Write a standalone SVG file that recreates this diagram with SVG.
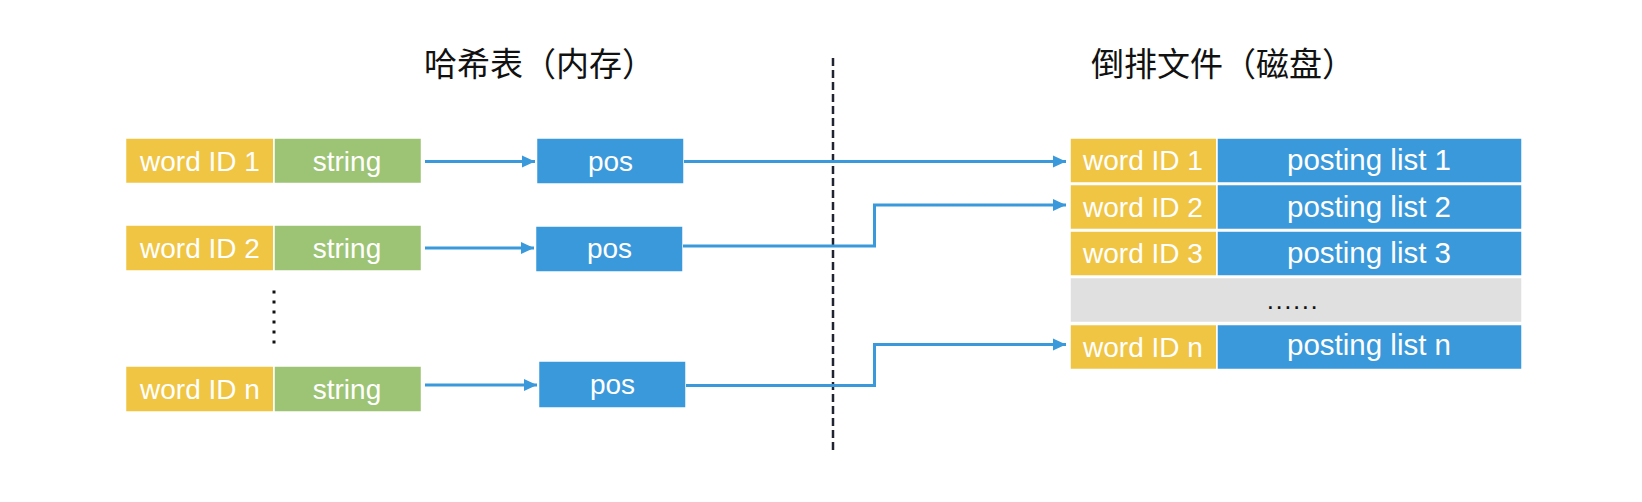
<svg xmlns="http://www.w3.org/2000/svg" width="1642" height="502" viewBox="0 0 1642 502">
<defs>
<style>
.y{fill:#F0C544;stroke:#fff;stroke-width:1.5}
.g{fill:#9DC474;stroke:#fff;stroke-width:1.5}
.b{fill:#3A99DB;stroke:#fff;stroke-width:1.5}
.gr{fill:#E0E0E0;stroke:#fff;stroke-width:1.5}
.t{font-family:"Liberation Sans",Arial,sans-serif;font-size:28px;fill:#fff;text-anchor:middle}
.tr{font-family:"Liberation Sans",Arial,sans-serif;font-size:28px;fill:#fff;text-anchor:middle}
.tp{font-family:"Liberation Sans",Arial,sans-serif;font-size:29.5px;fill:#fff;text-anchor:middle}
.h{font-family:"Noto Sans CJK SC",sans-serif;font-size:33px;fill:#111}
.c{fill:none;stroke:#3A99DB;stroke-width:3}
</style>
<marker id="ah" markerUnits="userSpaceOnUse" markerWidth="14" markerHeight="14" refX="13" refY="7" orient="auto">
<path d="M0,1 L13,7 L0,13 z" fill="#3A99DB"/>
</marker>
</defs>
<rect width="1642" height="502" fill="#fff"/>
<g id="titles">
<text class="h" x="424" y="76">哈希表（内存）</text>
<text class="h" x="1091" y="76">倒排文件（磁盘）</text>
</g>
<line id="divider" x1="833" y1="58" x2="833" y2="451" stroke="#1F2430" stroke-width="2.5" stroke-dasharray="8 4"/>
<g id="hash-row-1">
<rect class="y" x="125.5" y="138" width="148.5" height="45.5"/>
<rect class="g" x="274" y="138" width="147.5" height="45.5"/>
<text class="t" x="200" y="170.5">word ID 1</text>
<text class="t" x="347" y="170.5">string</text>
</g>
<g id="hash-row-2">
<rect class="y" x="125.5" y="225" width="148.5" height="46"/>
<rect class="g" x="274" y="225" width="147.5" height="46"/>
<text class="t" x="200" y="257.5">word ID 2</text>
<text class="t" x="347" y="257.5">string</text>
</g>
<g id="vdots" fill="#111">
<rect x="272.5" y="290.5" width="3" height="3"/><rect x="272.5" y="300.5" width="3" height="3"/><rect x="272.5" y="310.5" width="3" height="3"/>
<rect x="272.5" y="320.5" width="3" height="3"/><rect x="272.5" y="330.5" width="3" height="3"/><rect x="272.5" y="340.5" width="3" height="3"/>
</g>
<g id="hash-row-n">
<rect class="y" x="125.5" y="366" width="148.5" height="46"/>
<rect class="g" x="274" y="366" width="147.5" height="46"/>
<text class="t" x="200" y="398.5">word ID n</text>
<text class="t" x="347" y="398.5">string</text>
</g>
<g id="pos-1"><rect class="b" x="536.5" y="138" width="147.5" height="46"/><text class="t" x="610.5" y="170.5">pos</text></g>
<g id="pos-2"><rect class="b" x="535.5" y="226" width="147.5" height="46"/><text class="t" x="609.5" y="257.5">pos</text></g>
<g id="pos-n"><rect class="b" x="538.5" y="361" width="147.5" height="47"/><text class="t" x="612.5" y="393.5">pos</text></g>
<g id="inverted-file">
<rect class="y" x="1070" y="138" width="147" height="45"/><rect class="b" x="1217" y="138" width="305" height="45"/>
<text class="tr" x="1143" y="170">word ID 1</text><text class="tp" x="1369" y="170">posting list 1</text>
<rect class="y" x="1070" y="184.5" width="147" height="45"/><rect class="b" x="1217" y="184.5" width="305" height="45"/>
<text class="tr" x="1143" y="216.5">word ID 2</text><text class="tp" x="1369" y="216.5">posting list 2</text>
<rect class="y" x="1070" y="231" width="147" height="45"/><rect class="b" x="1217" y="231" width="305" height="45"/>
<text class="tr" x="1143" y="263">word ID 3</text><text class="tp" x="1369" y="263">posting list 3</text>
<rect class="gr" x="1070" y="277.5" width="452" height="45"/>
<text x="1293" y="309" font-family="Liberation Sans,Arial,sans-serif" font-size="26" fill="#111" text-anchor="middle" letter-spacing="1.5">......</text>
<rect class="y" x="1070" y="324.5" width="147" height="45"/><rect class="b" x="1217" y="324.5" width="305" height="45"/>
<text class="tr" x="1143" y="356.5">word ID n</text><text class="tp" x="1369" y="354.5">posting list n</text>
</g>
<g id="connectors">
<line class="c" x1="425" y1="161.5" x2="535" y2="161.5" marker-end="url(#ah)"/>
<line class="c" x1="425" y1="248" x2="534" y2="248" marker-end="url(#ah)"/>
<line class="c" x1="425" y1="385" x2="537" y2="385" marker-end="url(#ah)"/>
<path class="c" d="M684,161.5 H1066" marker-end="url(#ah)"/>
<path class="c" d="M683,246 H874.5 V205 H1066" marker-end="url(#ah)"/>
<path class="c" d="M686,385.5 H874.5 V344.5 H1066" marker-end="url(#ah)"/>
</g>
</svg>
